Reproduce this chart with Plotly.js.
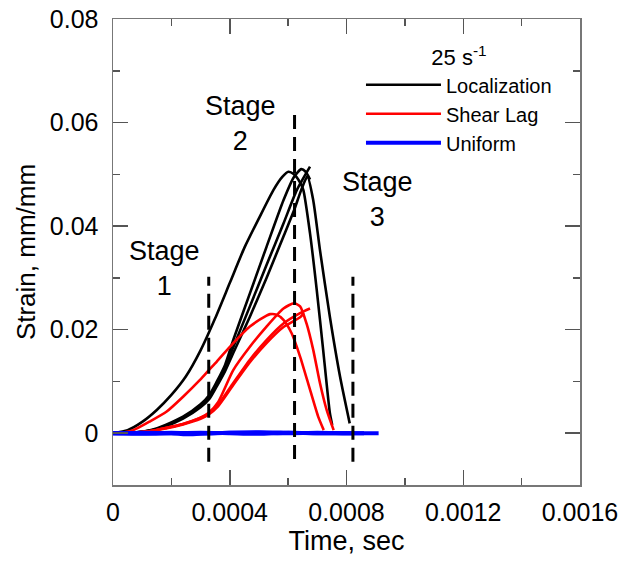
<!DOCTYPE html>
<html>
<head>
<meta charset="utf-8">
<script src="https://cdn.plot.ly/plotly-3.0.1.min.js"></script>
<style>html,body{margin:0;padding:0;background:#fff;}#chart{width:629px;height:565px;}</style>
</head>
<body>
<div id="chart"></div>
<script>
// ---- data (time in s, strain in mm/mm) ----
const locA_t = [0, 0.00005, 0.0001, 0.00015, 0.0002, 0.00025, 0.0003, 0.00035, 0.0004, 0.00045, 0.0005, 0.00055, 0.00058, 0.000601, 0.00062, 0.00064, 0.000652, 0.000675, 0.000698, 0.00072, 0.000743, 0.000751];
const locA_y = [0, 0.0006, 0.0022, 0.0045, 0.0074, 0.0110, 0.0160, 0.0222, 0.0290, 0.0358, 0.0415, 0.0470, 0.0495, 0.0505, 0.0500, 0.0485, 0.0470, 0.0386, 0.0277, 0.0161, 0.0039, 0.0016];
const locB_t = [0, 0.00007, 0.00013, 0.00018, 0.00024, 0.00030, 0.00033, 0.000355, 0.000384, 0.000412, 0.000469, 0.000526, 0.000584, 0.00062, 0.000645, 0.00066, 0.000675];
const locB_y = [0, 0.0001, 0.0006, 0.0016, 0.0032, 0.0056, 0.0074, 0.0099, 0.0132, 0.0180, 0.0270, 0.0360, 0.0450, 0.0495, 0.0510, 0.0505, 0.0490];
const locC_t = [0, 0.00007, 0.00013, 0.00018, 0.00024, 0.00030, 0.00033, 0.000355, 0.000384, 0.000412, 0.000469, 0.000526, 0.000584, 0.00063, 0.000675];
const locC_y = [0, 0.0001, 0.0005, 0.0014, 0.0030, 0.0053, 0.0070, 0.0095, 0.0127, 0.0166, 0.0245, 0.0325, 0.0405, 0.0470, 0.0515];
const locD_t = [0, 0.00007, 0.00013, 0.00018, 0.00024, 0.00030, 0.00033, 0.000355, 0.000384, 0.000412, 0.000469, 0.000526, 0.000584, 0.00062, 0.000645, 0.000666, 0.000686, 0.000709, 0.000743, 0.000778, 0.000811];
const locD_y = [0, 0.0001, 0.0005, 0.0013, 0.0028, 0.0050, 0.0066, 0.0090, 0.0120, 0.0155, 0.0225, 0.0300, 0.0380, 0.0430, 0.0470, 0.0496, 0.0450, 0.0354, 0.0225, 0.0109, 0.0019];

const shrA_t = [0, 0.00004, 0.00007, 0.000127, 0.000184, 0.000241, 0.000298, 0.000327, 0.000355, 0.000412, 0.000469, 0.000526, 0.000538, 0.00056, 0.000584, 0.000612, 0.000641, 0.000675, 0.000703, 0.000722];
const shrA_y = [0, 0.0002, 0.0006, 0.0023, 0.0042, 0.0071, 0.0103, 0.0121, 0.0138, 0.0174, 0.0206, 0.0227, 0.0230, 0.0229, 0.0219, 0.0193, 0.0148, 0.0084, 0.0032, 0.0006];
const shrB_t = [0, 0.00007, 0.00013, 0.00018, 0.00024, 0.00030, 0.000327, 0.00036, 0.000412, 0.000469, 0.000526, 0.000584, 0.00062, 0.000641, 0.000663, 0.000686, 0.000709, 0.000732, 0.000756];
const shrB_y = [0, 0.0001, 0.0004, 0.0010, 0.0018, 0.0030, 0.0039, 0.0060, 0.0122, 0.0167, 0.0206, 0.0241, 0.0251, 0.0245, 0.0212, 0.0161, 0.0097, 0.0045, 0.0006];
const shrC_t = [0, 0.00007, 0.00013, 0.00018, 0.00024, 0.00030, 0.000327, 0.00036, 0.000412, 0.000469, 0.000526, 0.000584, 0.000641, 0.000675];
const shrC_y = [0, 0.0001, 0.0004, 0.0010, 0.0018, 0.0030, 0.0038, 0.0055, 0.0097, 0.0142, 0.0180, 0.0212, 0.0232, 0.0241];
const shrD_t = [0, 0.00007, 0.00013, 0.00018, 0.00024, 0.00030, 0.000327, 0.00036, 0.000412, 0.000469, 0.000526, 0.000584, 0.000641, 0.000654];
const shrD_y = [0, 0.0001, 0.0004, 0.0009, 0.0017, 0.0028, 0.0036, 0.0052, 0.0093, 0.0137, 0.0174, 0.0205, 0.0224, 0.0232];

const uniA_t = [0, 0.0001, 0.0002, 0.00025, 0.0003, 0.0004, 0.0005, 0.0006, 0.0007, 0.0008, 0.00091];
const uniA_y = [0, 0.0001, 0.0000, -0.0002, -0.0001, 0.0001, 0.0002, 0.0001, 0.0000, 0.0000, 0.0000];
const uniB_t = [0, 0.0001, 0.0002, 0.0003, 0.0004, 0.0005, 0.0006, 0.0007, 0.0008, 0.00086];
const uniB_y = [0, 0.0000, 0.0001, 0.0000, 0.0001, 0.0001, 0.0000, 0.0001, 0.0000, 0.0000];
const uniC_t = [0, 0.0001, 0.0002, 0.0003, 0.0004, 0.0005, 0.0006, 0.0007, 0.00082];
const uniC_y = [0, -0.0001, 0.0000, 0.0001, 0.0000, -0.0001, 0.0001, 0.0000, 0.0000];

// stage boundaries (s) and their dashed extents
const stageBound_t = [0.000328, 0.000622, 0.000822];
const stageBound_lo = [-0.0055, -0.0050, -0.0055];
const stageBound_hi = [0.0302, 0.0626, 0.0302];
// stage labels
const stageLabel_text = ['Stage<br>1', 'Stage<br>2', 'Stage<br>3'];
const stageLabel_t = [0.000175, 0.000437, 0.000905];
const stageLabel_y = [0.0319, 0.0599, 0.0451];

const groupNames = ['Localization', 'Shear Lag', 'Uniform'];
const groupColors = ['#000000', '#ff0000', '#0000ff'];

const xTickVals = [0, 0.0004, 0.0008, 0.0012, 0.0016];
const xTickText = ['0', '0.0004', '0.0008', '0.0012', '0.0016'];
const yTickVals = [0, 0.02, 0.04, 0.06, 0.08];
const yTickText = ['0', '0.02', '0.04', '0.06', '0.08'];

// ---- traces ----
const series = [
  [locA_t, locA_y, 0], [locB_t, locB_y, 0], [locC_t, locC_y, 0], [locD_t, locD_y, 0],
  [shrA_t, shrA_y, 1], [shrB_t, shrB_y, 1], [shrC_t, shrC_y, 1], [shrD_t, shrD_y, 1],
  [uniA_t, uniA_y, 2], [uniB_t, uniB_y, 2], [uniC_t, uniC_y, 2]
];
const seen = {};
const traces = [];
series.forEach(function (s) {
  const g = s[2];
  traces.push({
    x: s[0], y: s[1], type: 'scatter', mode: 'lines',
    line: {color: groupColors[g], width: g === 2 ? 4 : 2.6, shape: 'spline', smoothing: 0.6},
    name: groupNames[g], legendgroup: groupNames[g],
    showlegend: !seen[g], hoverinfo: 'skip'
  });
  seen[g] = true;
});
stageBound_t.forEach(function (t, i) {
  traces.push({
    x: [t, t], y: [stageBound_lo[i], stageBound_hi[i]], type: 'scatter', mode: 'lines',
    line: {color: '#000', width: 3, dash: '14px,8px'}, showlegend: false, hoverinfo: 'skip'
  });
});
const fontFam = 'Liberation Sans, Arial, sans-serif';
const annotations = stageLabel_text.map(function (txt, i) {
  return {x: stageLabel_t[i], y: stageLabel_y[i], xref: 'x', yref: 'y', text: txt,
          showarrow: false, font: {family: fontFam, size: 27, color: '#000'}, align: 'center'};
});

const axisCommon = {
  showline: true, linecolor: '#777', linewidth: 1.5, mirror: 'allticks',
  ticks: 'inside', ticklen: 15, tickwidth: 1.5, tickcolor: '#555',
  showgrid: false, zeroline: false,
  tickfont: {family: fontFam, size: 25, color: '#000'}
};

const layout = {
  width: 629, height: 565,
  margin: {l: 113, r: 49, t: 19, b: 80},
  paper_bgcolor: '#fff', plot_bgcolor: '#fff',
  font: {family: fontFam, color: '#000'},
  xaxis: Object.assign({}, axisCommon, {
    range: [0, 0.0016], tickmode: 'array', tickvals: xTickVals, ticktext: xTickText,
    minor: {dtick: 0.0002, tick0: 0, ticks: 'inside', ticklen: 7, tickwidth: 1.5, tickcolor: '#555'},
    ticklabelstandoff: 4,
    title: {text: 'Time, sec', font: {family: fontFam, size: 27, color: '#000'}, standoff: 6}
  }),
  yaxis: Object.assign({}, axisCommon, {
    range: [-0.01, 0.08], tickmode: 'array', tickvals: yTickVals, ticktext: yTickText,
    minor: {dtick: 0.01, tick0: 0, ticks: 'inside', ticklen: 7, tickwidth: 1.5, tickcolor: '#555'},
    ticklabelstandoff: 8,
    title: {text: 'Strain, mm/mm', font: {family: fontFam, size: 26, color: '#000'}, standoff: 6}
  }),
  legend: {
    x: 0.531, y: 0.962, xanchor: 'left', yanchor: 'top',
    bgcolor: 'rgba(0,0,0,0)', borderwidth: 0,
    itemwidth: 75, traceorder: 'normal',
    font: {family: fontFam, size: 20, color: '#000'},
    title: {text: '25 s<sup>-1</sup>', side: 'top center', font: {family: fontFam, size: 22, color: '#000'}}
  },
  annotations: annotations,
  showlegend: true
};

Plotly.newPlot('chart', traces, layout, {displayModeBar: false, staticPlot: true}).then(function (gd) {
  // lengthen legend line samples to match the reference
  gd.querySelectorAll('.legend .legendlines path').forEach(function (p) {
    p.setAttribute('d', 'M5,0h75');
  });
});
</script>
</body>
</html>
